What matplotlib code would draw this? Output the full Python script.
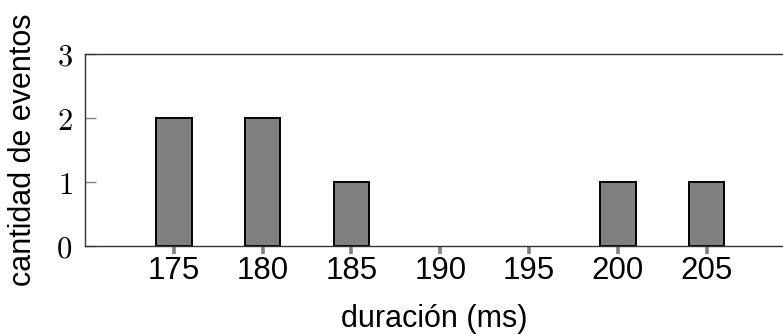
import matplotlib
matplotlib.use('Agg')
import matplotlib.pyplot as plt
import numpy as np

plt.rcParams['mathtext.fontset'] = 'cm'
plt.rcParams['font.family'] = ['Liberation Sans', 'DejaVu Sans']

# duración (ms) y cantidad de eventos
duracion = [175, 180, 185, 190, 195, 200, 205]
eventos = [2, 2, 1, 0, 0, 1, 1]
yticks = [0, 1, 2, 3]

W, H = 783, 335
fig = plt.figure(figsize=(W / 100, H / 100), dpi=100)
ax = fig.add_axes([85 / W, 1 - 246 / H, (783 - 85) / W, (246 - 54) / H])

x = np.array(duracion)
y = np.array(eventos)
nz = y > 0  # empty bins draw nothing
ax.bar(x[nz], y[nz], width=2.0, color='#808080', edgecolor='black',
       linewidth=1.4, zorder=2)

ax.set_xlim(170, 209.3)
ax.set_ylim(0, 3)
ax.set_xticks(duracion)
ax.set_xticklabels([str(d) for d in duracion], fontsize=22.5)
ax.set_yticks(yticks)
ax.set_yticklabels(['$%d$' % v for v in yticks], fontsize=22)

ax.tick_params(axis='x', direction='out', length=6, width=2.6, color='#808080',
               pad=1.5)
ax.tick_params(axis='y', direction='in', length=8, width=1, color='#808080',
               pad=9)

for s in ['left', 'top', 'bottom']:
    ax.spines[s].set_linewidth(1.0)
    ax.spines[s].set_color('#333333')
ax.spines['right'].set_visible(False)

ax.set_xlabel('duración (ms)', fontsize=22, labelpad=12.5)
ax.set_ylabel('cantidad de eventos', fontsize=22, labelpad=13)

fig.savefig('out.png', dpi=100)
